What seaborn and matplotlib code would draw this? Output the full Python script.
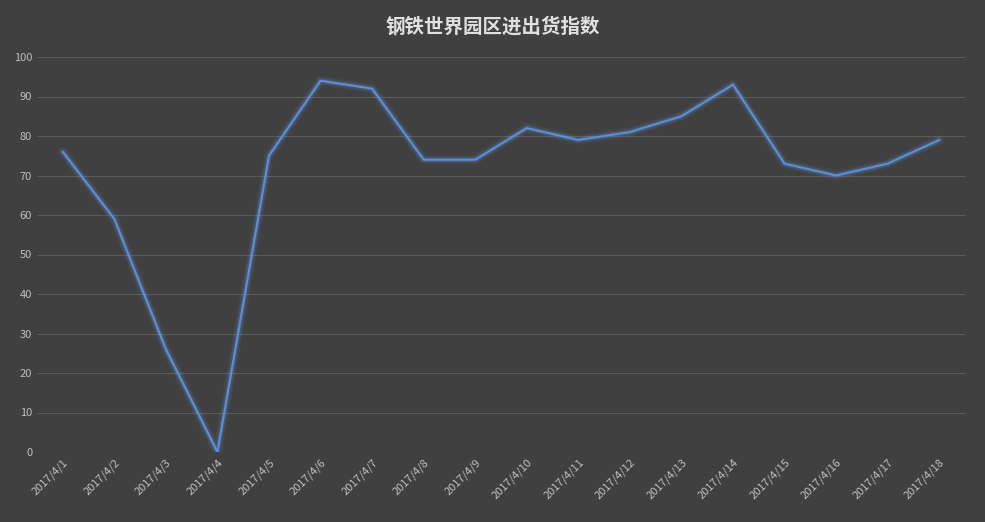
import matplotlib
matplotlib.use("Agg")
import matplotlib.pyplot as plt
import seaborn as sns
import pandas as pd

dates = [f"2017/4/{i}" for i in range(1, 19)]
values = [76, 59, 26, 0, 75, 94, 92, 74, 74, 82, 79, 81, 85, 93, 73, 70, 73, 79]
title = "钢铁世界园区进出货指数"

sns.set_style("dark")
plt.rcParams['font.family'] = ['Noto Sans CJK SC', 'DejaVu Sans']

bg = "#404040"
fig = plt.figure(figsize=(9.85, 5.22), dpi=100, facecolor=bg)
ax = fig.add_axes([37/985, 1-452/522, 928/985, 395/522], facecolor=bg)

df = pd.DataFrame({"x": range(len(dates)), "y": values})
for lw, a in [(7, 0.05), (5, 0.08), (3.5, 0.14)]:
    sns.lineplot(data=df, x="x", y="y", ax=ax, color="#6fa8ff", lw=lw, alpha=a)
sns.lineplot(data=df, x="x", y="y", ax=ax, color="#5b8fd6", lw=1.5)

ax.set_xlim(-0.5, len(dates) - 0.5)
ax.set_ylim(0, 100)
ax.set_yticks(range(0, 101, 10))
ax.set_xticks(range(len(dates)))
ax.set_xticklabels(dates, rotation=45, ha="right", rotation_mode="anchor")
ax.tick_params(colors="#bfbfbf", labelsize=8, length=0)
ax.grid(axis="y", color="#5a5a5a", lw=0.8)
ax.grid(axis="x", visible=False)
for s in ax.spines.values():
    s.set_visible(False)
ax.set_xlabel("")
ax.set_ylabel("")
fig.text(0.5, 1-27/522, title, ha="center", va="center", color="#e0e0e0",
         fontsize=14, fontweight="bold")
fig.savefig("out.png", facecolor=bg)
